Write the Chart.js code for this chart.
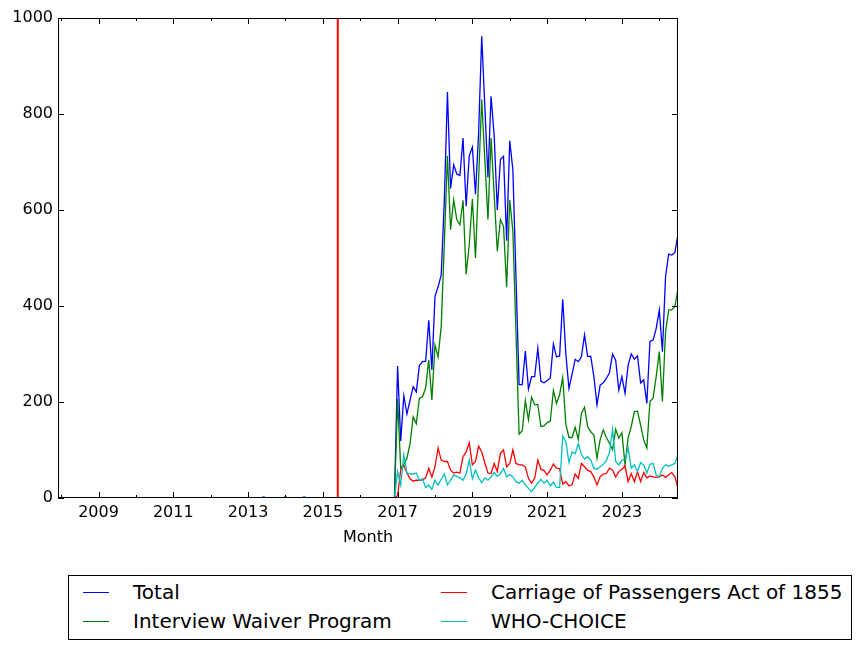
<!DOCTYPE html>
<html>
<head>
<meta charset="utf-8">
<script src="https://cdn.jsdelivr.net/npm/chart.js@4.4.0/dist/chart.umd.min.js"></script>
<style>
  body { margin: 0; background: #fff; font-family: "DejaVu Sans", sans-serif; }
  #wrap { position: relative; width: 862px; height: 650px; }
  #chart { position: absolute; left: 0; top: 0; }
  #legend { position: absolute; left: 68px; top: 575px; width: 784px; height: 65px;
            border: 1px solid #000; box-sizing: border-box; background: #fff; }
  .swatch { position: absolute; width: 26px; height: 1px; }
  .lbl { position: absolute; font-size: 20px; line-height: 24px; height: 24px; white-space: nowrap; color: #000; }
</style>
</head>
<body>
<div id="wrap">
  <canvas id="chart" width="862" height="560"></canvas>
  <div id="legend"></div>
</div>
<script>
// monthly series, first point = Dec 2007
var startYear = 2007, startMonth = 12;

// Dec 2007 .. Dec 2016
var totalPre = [0,
  0,0,0,0,0,0,0,0,0,0,0,0,
  0,0,0,0,0,0,0,0,0,0,0,0,
  0,0,0,0,0,0,0,0,0,0,0,0,
  0,0,0,0,0,0,0,0,0,0,0,0,
  0,0,0,0,0,0,0,0,0,0,0,0,
  0,0,0,0,0,2,0,0,0,0,0,0,
  2,0,0,0,0,0,2,0,0,0,0,0,
  0,0,0,0,0,0,0,0,0,0,0,0,
  0,0,0,0,0,0,0,0,0,0,0,0];
var iwpPre = [0,
  0,0,0,0,0,0,0,0,0,0,0,0,
  0,0,0,0,0,0,0,0,0,0,0,0,
  0,0,0,0,0,0,0,0,0,0,0,0,
  0,0,0,0,0,0,0,0,0,0,0,0,
  0,0,0,0,0,0,0,0,0,0,0,0,
  0,0,0,0,0,0,0,0,0,0,0,0,
  0,0,0,0,0,0,0,0,0,0,0,0,
  0,0,0,0,0,0,0,0,0,0,0,0,
  0,0,0,0,0,0,0,0,0,0,0,0];
var cpaPre = [0,
  0,0,0,0,0,0,0,0,0,0,0,0,
  0,0,0,0,0,0,0,0,0,0,0,0,
  0,0,0,0,0,0,0,0,0,0,0,0,
  0,0,0,0,0,0,0,0,0,0,0,0,
  0,0,0,0,0,0,0,0,0,0,0,0,
  0,0,0,0,0,0,0,0,0,0,0,0,
  0,0,0,0,0,0,0,0,0,0,0,0,
  0,0,0,0,0,0,0,0,0,0,0,0,
  0,0,0,0,0,0,0,0,0,0,0,0];
var whoPre = [0,
  0,0,0,0,0,0,0,0,0,0,0,0,
  0,0,0,0,0,0,0,0,0,0,0,0,
  0,0,0,0,0,0,0,0,0,0,0,0,
  0,0,0,0,0,0,0,0,0,0,0,0,
  0,0,0,0,0,0,0,0,0,0,0,0,
  0,0,0,0,0,2,0,0,0,0,0,0,
  2,0,0,0,0,0,2,0,0,0,0,0,
  0,0,0,0,0,0,0,0,0,0,0,0,
  0,0,0,0,0,0,0,0,0,0,0,0];

// Jan 2017 .. Jul 2024
var totalPost = [
  275,119,213,175,204,232,221,276,284,285,370,267,
  420,440,465,620,846,645,694,675,672,750,608,713,
  731,633,760,962,815,668,837,755,600,705,712,536,
  744,684,460,236,236,306,227,253,253,312,243,240,
  245,250,321,294,296,414,300,228,258,289,284,294,
  340,295,295,253,194,235,240,249,261,300,287,225,
  253,218,277,300,289,296,240,246,197,326,329,353,
  392,305,461,508,506,511,550];
var iwpPost = [
  206,62,70,83,114,169,155,208,211,229,288,204,
  319,294,357,530,713,559,621,580,569,620,466,528,
  623,500,665,830,705,580,750,632,514,580,566,439,
  621,556,345,133,140,203,163,210,194,195,149,150,
  157,160,224,197,215,251,154,126,126,147,122,176,
  189,149,138,131,83,121,142,126,114,101,143,125,
  136,69,126,149,180,181,152,121,104,201,208,253,
  305,201,346,392,392,399,435];
var cpaPost = [
  5,58,68,52,40,35,37,37,38,42,62,44,
  65,104,79,76,76,58,52,54,52,86,96,115,
  69,76,108,96,73,52,51,72,55,93,100,65,
  72,100,72,69,69,65,41,31,41,79,60,57,
  48,58,71,62,61,29,34,25,28,50,41,72,
  65,58,55,44,27,44,50,51,62,58,44,55,
  60,67,34,51,34,55,34,53,42,46,44,43,
  44,48,43,48,53,44,20];
var whoPost = [
  55,27,90,52,50,50,52,37,40,22,27,18,
  37,27,39,50,27,37,48,45,42,37,50,79,
  40,58,42,32,42,37,44,53,45,51,62,44,
  49,44,34,31,37,27,20,13,22,31,39,31,
  37,25,33,22,22,129,118,74,96,92,113,91,
  81,86,79,62,60,65,70,78,95,143,76,69,
  79,80,104,62,69,55,74,69,52,70,72,48,
  44,62,69,66,69,72,90];

var seriesNames = ['Total', 'Interview Waiver Program', 'Carriage of Passengers Act of 1855', 'WHO-CHOICE'];
var seriesColors = ['#0000ff', '#008000', '#ff0000', '#00bfbf'];
var xTickYears = [2008,2009,2010,2011,2012,2013,2014,2015,2016,2017,2018,2019,2020,2021,2022,2023,2024];
var yTicks = [0, 200, 400, 600, 800, 1000];
var policyYear = 2015.4; // red vertical marker

var seriesValues = [
  totalPre.concat(totalPost),
  iwpPre.concat(iwpPost),
  cpaPre.concat(cpaPost),
  whoPre.concat(whoPost)
];

function monthPos(i) {
  return startYear + (startMonth - 1 + i) / 12;
}

var nPoints = seriesValues[0].length;
var xMin = monthPos(0), xMax = monthPos(nPoints - 1);

// inward ticks, full box and the red marker, matplotlib style
var axesDecor = {
  id: 'axesDecor',
  afterDatasetsDraw: function(chart) {
    var ctx = chart.ctx, a = chart.chartArea;
    var x = chart.scales.x, y = chart.scales.y;
    ctx.save();
    var px = x.getPixelForValue(policyYear);
    ctx.strokeStyle = '#ff0000';
    ctx.lineWidth = 2;
    ctx.beginPath();
    ctx.moveTo(px, a.top);
    ctx.lineTo(px, a.bottom);
    ctx.stroke();

    ctx.strokeStyle = '#000';
    ctx.lineWidth = 1;
    ctx.strokeRect(a.left + 0.5, a.top + 0.5, a.right - a.left - 1, a.bottom - a.top - 1);

    ctx.beginPath();
    xTickYears.forEach(function(v) {
      var p = Math.round(x.getPixelForValue(v)) + 0.5;
      var len = (v % 2 === 1) ? 6 : 3;
      ctx.moveTo(p, a.bottom); ctx.lineTo(p, a.bottom - len);
      ctx.moveTo(p, a.top); ctx.lineTo(p, a.top + len);
    });
    yTicks.forEach(function(v) {
      var p = Math.round(y.getPixelForValue(v)) + 0.5;
      ctx.moveTo(a.left, p); ctx.lineTo(a.left + 6, p);
      ctx.moveTo(a.right, p); ctx.lineTo(a.right - 6, p);
    });
    ctx.stroke();
    ctx.restore();
  }
};

Chart.defaults.font.family = '"DejaVu Sans", sans-serif';
Chart.defaults.font.size = 16;
Chart.defaults.color = '#000';

var datasets = seriesValues.map(function(vals, k) {
  return {
    label: seriesNames[k],
    data: vals.map(function(v, i) { return { x: monthPos(i), y: v }; }),
    borderColor: seriesColors[k],
    backgroundColor: seriesColors[k],
    borderWidth: 1.3,
    pointRadius: 0,
    tension: 0,
    fill: false,
    order: seriesValues.length - k
  };
});

new Chart(document.getElementById('chart'), {
  type: 'line',
  data: { datasets: datasets },
  options: {
    responsive: false,
    animation: false,
    devicePixelRatio: 1,
    layout: { padding: { left: 0, top: 18, right: 184, bottom: 0 } },
    plugins: { legend: { display: false }, tooltip: { enabled: false } },
    scales: {
      x: {
        type: 'linear',
        min: xMin,
        max: xMax,
        grid: { display: false, drawTicks: false },
        border: { display: false },
        afterBuildTicks: function(scale) {
          scale.ticks = xTickYears.map(function(v) { return { value: v }; });
        },
        afterFit: function(scale) { scale.height = 62; },
        ticks: {
          padding: 5,
          maxRotation: 0,
          autoSkip: false,
          callback: function(v) { return (v % 2 === 1) ? String(v) : ''; }
        },
        title: { display: true, text: 'Month', font: { size: 16 }, padding: { top: 0, bottom: 13 } }
      },
      y: {
        min: 0,
        max: 1000,
        grid: { display: false, drawTicks: false },
        border: { display: false },
        afterBuildTicks: function(scale) {
          scale.ticks = yTicks.map(function(v) { return { value: v }; });
        },
        afterFit: function(scale) { scale.width = 58; },
        ticks: {
          padding: 5,
          callback: function(v) { return String(v); }
        }
      }
    }
  },
  plugins: [axesDecor]
});

// legend laid out like the matplotlib two-column box
var legendPos = [
  { line: 14, text: 64, row: 17 },
  { line: 14, text: 64, row: 46 },
  { line: 372, text: 422, row: 17 },
  { line: 372, text: 422, row: 46 }
];
var legend = document.getElementById('legend');
seriesNames.forEach(function(name, k) {
  var p = legendPos[k];
  var sw = document.createElement('div');
  sw.className = 'swatch';
  sw.style.left = p.line + 'px';
  sw.style.top = (p.row - 1) + 'px';
  sw.style.background = seriesColors[k];
  legend.appendChild(sw);
  var t = document.createElement('div');
  t.className = 'lbl';
  t.style.left = p.text + 'px';
  t.style.top = (p.row - 13) + 'px';
  t.textContent = name;
  legend.appendChild(t);
});
</script>
</body>
</html>
